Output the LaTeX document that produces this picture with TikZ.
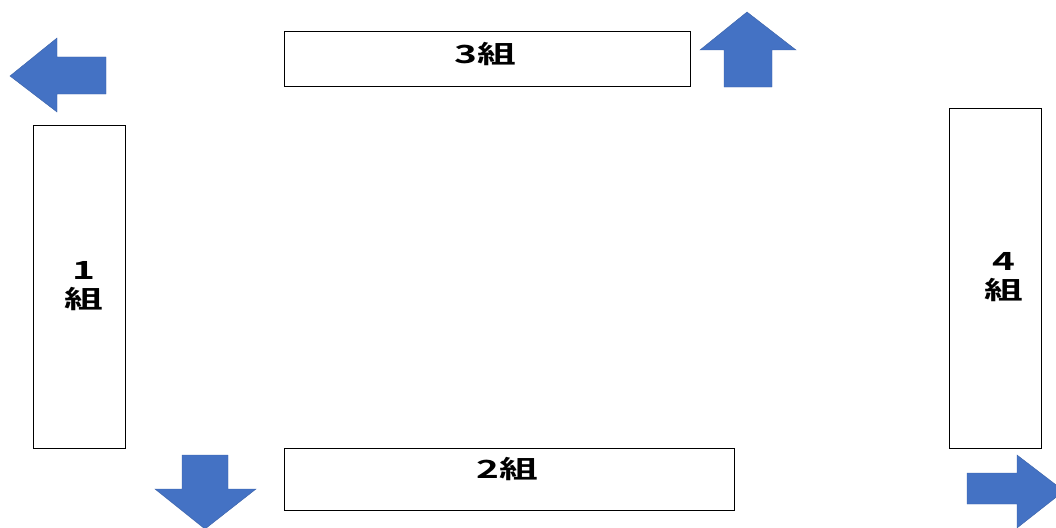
\documentclass[tikz,border=0pt]{standalone}
\usepackage{fontspec}
\newfontfamily\cjk{Noto Sans CJK JP}[BoldFont={Noto Sans CJK JP Bold}]
\definecolor{arrowblue}{HTML}{4472C4}
\tikzset{
  classbox/.style={draw=black, line width=1.2pt, fill=white, inner sep=0pt},
  label/.style={font=\cjk\bfseries\fontsize{25}{29}\selectfont, align=center, xscale=1.55, inner sep=0pt},
  bluearrow/.style={fill=arrowblue, draw=arrowblue!85!black, line width=0.4pt}
}
\begin{document}
\begin{tikzpicture}[x=1pt,y=-1pt]
\useasboundingbox (0,0) rectangle (1056,527);
% boxes
\node[classbox, minimum width=406pt, minimum height=55pt, anchor=north west] (g3) at (284,31) {};
\node[classbox, minimum width=450pt, minimum height=62pt, anchor=north west] (g2) at (284,448) {};
\node[classbox, minimum width=92pt, minimum height=323pt, anchor=north west] (g1) at (33,125) {};
\node[classbox, minimum width=92pt, minimum height=340pt, anchor=north west] (g4) at (949,108) {};
% labels
\node[label] (t3) at (485,54) {3組};
\node[label] (t2) at (507,469) {2組};
\node[label] (t1) at (84,286) {1\\組};
\node[label] (t4) at (1004,277) {4\\組};
% arrows
\fill[bluearrow] (10,76) -- (57,38) -- (57,57) -- (106,57) -- (106,94) -- (57,94) -- (57,112) -- cycle;
\fill[bluearrow] (747,12) -- (796,50) -- (772,50) -- (772,87) -- (724,87) -- (724,50) -- (700,50) -- cycle;
\fill[bluearrow] (182,455) -- (228,455) -- (228,489) -- (256,489) -- (205,529) -- (155,489) -- (182,489) -- cycle;
\fill[bluearrow] (967,473) -- (1017,473) -- (1017,455) -- (1064,491) -- (1017,528) -- (1017,504) -- (967,504) -- cycle;
\end{tikzpicture}
\end{document}
